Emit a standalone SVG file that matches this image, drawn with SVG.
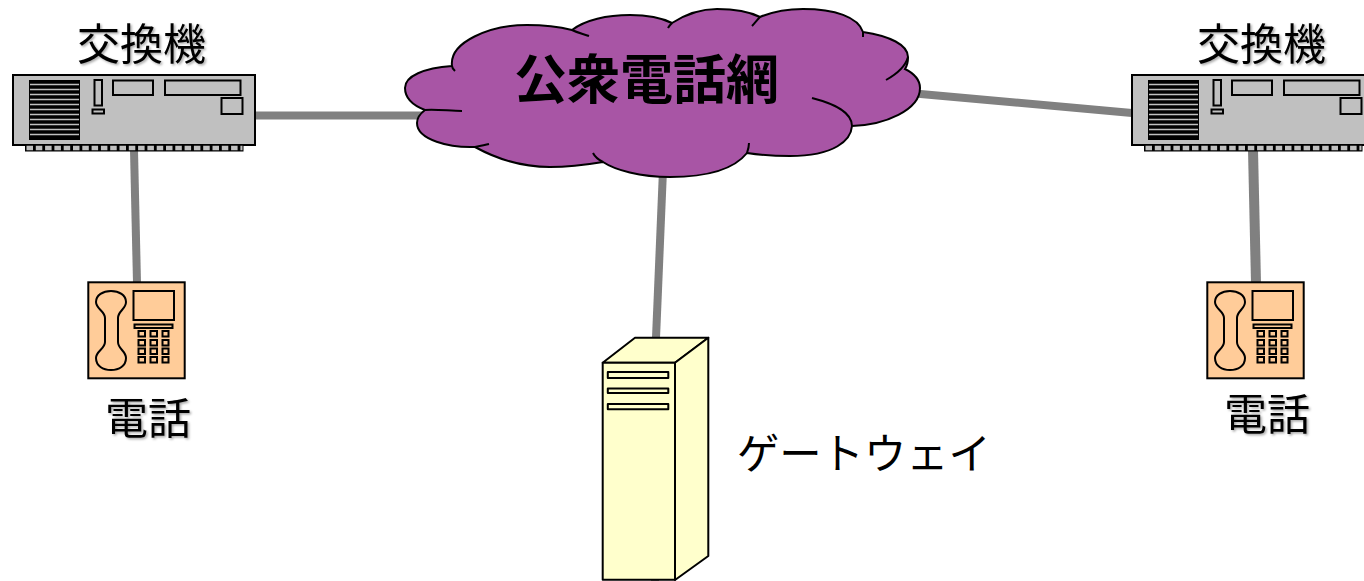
<svg xmlns="http://www.w3.org/2000/svg" width="1364" height="581" viewBox="0 0 1364 581">
<style>
.conn{stroke:#808080;stroke-width:8;fill:none}
.k{stroke:#000;fill:none}
text{font-family:"Noto Sans CJK JP","Liberation Sans",sans-serif;font-size:43px;fill:#000}
.soft{filter:url(#sh)}
.sw{fill:#c0c0c0;stroke:#000;stroke-width:2}
.ph{fill:#ffcc99;stroke:#000;stroke-width:2}
.phk{fill:none;stroke:#000;stroke-width:2}
.srv{fill:#ffffcc;stroke:#000;stroke-width:2;stroke-linejoin:round}
</style>
<defs>
<filter id="sh" x="-5%" y="-5%" width="115%" height="115%"><feDropShadow dx="1.5" dy="1.5" stdDeviation="0.8" flood-color="#000" flood-opacity="0.35"/></filter>
<g id="switch">
<rect class="sw" x="13" y="75" width="242" height="70"/>
<rect x="29" y="80" width="51" height="60" fill="#000"/>
<path d="M30 84.500H79M30 89.500H79M30 94.500H79M30 99.500H79M30 104.500H79M30 109.500H79M30 114.500H79M30 119.500H79M30 124.500H79M30 129.500H79M30 134.500H79" stroke="#c0c0c0" stroke-width="1.300"/>
<rect class="sw" x="94.500" y="80" width="7.500" height="25.500"/>
<rect class="sw" x="92.500" y="109.500" width="11.500" height="4"/>
<rect class="sw" x="113" y="80.500" width="40" height="14.500"/>
<rect class="sw" x="165" y="80.500" width="75.500" height="14.500"/>
<rect class="sw" x="221.500" y="98" width="21" height="16"/>
<rect x="25" y="144.500" width="218.500" height="7" fill="#000"/>
<path d="M26.500 148H242.500" stroke="#c0c0c0" stroke-width="4.400" stroke-dasharray="6.500 2.800"/>
</g>
<g id="phone">
<rect class="ph" x="88.300" y="282.300" width="96.400" height="96"/>
<path class="phk" d="M105 318C105 311 96 309 96 302C96 295 103 291 111 291C119 291 126 295 126 302C126 309 118 311 118 318V342C118 349 126 351 126 358C126 366 119 370 111 370C103 370 96 366 96 358C96 351 105 349 105 342Z"/>
<rect class="phk" x="133.500" y="291" width="40.500" height="29"/>
<rect class="phk" x="134.500" y="324.500" width="38" height="3.500"/>
<path class="phk" d="M138.500 331h6.500v5.500h-6.500zM150.500 331h6.500v5.500h-6.500zM162.500 331h6v5.500h-6zM138.500 340h6.500v5.500h-6.500zM150.500 340h6.500v5.500h-6.500zM162.500 340h6v5.500h-6zM138.500 348.500h6.500v5.500h-6.500zM150.500 348.500h6.500v5.500h-6.500zM162.500 348.500h6v5.500h-6zM138.500 357h6.500v5.500h-6.500zM150.500 357h6.500v5.500h-6.500zM162.500 357h6v5.500h-6z"/>
</g>
</defs>
<rect width="1364" height="581" fill="#fff"/>
<g id="connectors">
<line class="conn" x1="255" y1="115.500" x2="425" y2="115.500"/>
<line class="conn" x1="915" y1="93.500" x2="1132" y2="113"/>
<line class="conn" x1="134" y1="150" x2="137" y2="283"/>
<line class="conn" style="stroke-width:10" x1="1253" y1="150" x2="1256" y2="283"/>
<line class="conn" x1="663" y1="170" x2="656" y2="338"/>
<line class="conn" x1="655" y1="579" x2="655" y2="581"/>
</g>
<g id="cloud">
<path fill="#a855a5" stroke="#000" stroke-width="2" d="M452 66C449 42 490 25 527 25C545 25 560 27 572 30C585 20 607 15 630 15C648 15 662 18 672 23C686 14 700 9 717 9C735 9 750 12 760 17C772 12 788 9 803 9C835 9 858 17 863 32C890 36 908 45 908 57C908 62 907 66 905 69C915 74 920 81 920 88C920 110 885 125 852 126C851 140 835 156 790 156C775 156 760 155 747 153C735 168 710 177 670 177C640 177 615 170 603 162C585 165 570 167 550 167C520 167 495 158 475 147C450 148 417 140 417 123C417 118 421 113 425 110C412 105 405 97 405 88C405 76 424 68 452 66Z"/>
<path class="k" stroke-width="2" d="M572 30C578 33 584 34 589 36M668 28C669 26 670 25 672 23M752 26C754 24 757 20 760 17M863 32C863 34 863 36 863 37M908 57C905 68 895 75 886 80M812 98C835 104 852 112 852 126M749 143C749 147 748 150 747 153M593 153C595 157 599 160 603 162M475 147C480 146 485 145 489 144M425 110C436 109 450 111 462 111M452 66C452 68 454 70 455 71"/>
<text x="514" y="99" style="font-size:53px;font-weight:700">公衆電話網</text>
</g>
<g id="switch-left">
<use href="#switch"/>
<text class="soft" x="77" y="60">交換機</text>
</g>
<g id="switch-right">
<use href="#switch" x="1119"/>
<text class="soft" x="1197" y="60">交換機</text>
</g>
<g id="phone-left">
<use href="#phone"/>
<text class="soft" x="105" y="434">電話</text>
</g>
<g id="phone-right">
<use href="#phone" x="1119"/>
<text class="soft" x="1224" y="430">電話</text>
</g>
<g id="gateway">
<path class="srv" d="M602.700 362.700L635 337.700H708.300L675 362.700Z"/>
<path class="srv" d="M675 362.700L708.300 337.700V556L675 580Z"/>
<rect class="srv" x="602.700" y="362.700" width="72.300" height="217"/>
<rect class="srv" x="607.800" y="372" width="60.500" height="6"/>
<rect class="srv" x="607.800" y="388.500" width="60.500" height="4.500"/>
<rect class="srv" x="607.800" y="404" width="60.500" height="5.200"/>
<text x="737" y="468.500" style="font-size:42.300px">ゲートウェイ</text>
</g>
</svg>
